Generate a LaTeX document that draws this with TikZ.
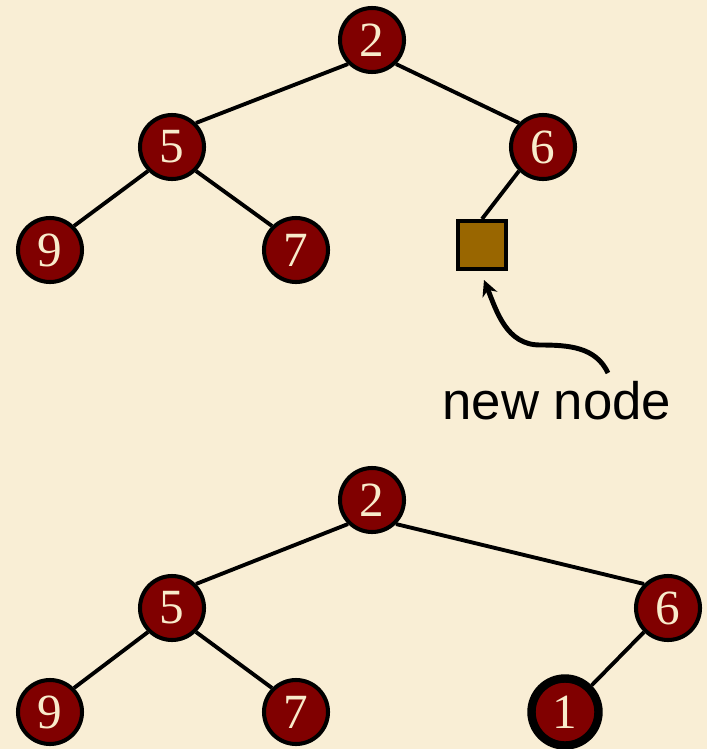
\documentclass[tikz,border=0pt]{standalone}
\usepackage{fontspec}
\setmainfont{Liberation Serif}
\newfontfamily\labelfont{Liberation Sans}
\usetikzlibrary{arrows.meta, backgrounds}
\definecolor{paper}{HTML}{F9EED5}
\definecolor{maroon}{HTML}{800000}
\definecolor{digit}{HTML}{F8EBCB}
\definecolor{umber}{HTML}{996600}

\begin{document}
\begin{tikzpicture}
\tikzstyle{heapnode} = [circle, draw=black, fill=maroon, line width=2.3pt, minimum size=1.28cm, inner sep=0pt, text=digit, font=\fontsize{28}{28}\selectfont]
\tikzstyle{hotnode} = [heapnode, line width=4.8pt, minimum size=1.34cm]
\tikzstyle{newleaf} = [rectangle, draw=black, fill=umber, line width=2.3pt, minimum size=0.96cm, inner sep=0pt]
\tikzstyle{link} = [line width=2.2pt]
\fill[paper] (0,0) rectangle (14.14,-14.98);
\useasboundingbox (0,0) rectangle (14.14,-14.98);
% before: a free slot under 6
\node[heapnode] (a2) at (7.44,-0.80) {2};
\node[heapnode] (a5) at (3.44,-2.94) {5};
\node[heapnode] (a6) at (10.86,-2.94) {6};
\node[heapnode] (a9) at (1.00,-5.00) {9};
\node[heapnode] (a7) at (5.92,-5.00) {7};
\node[newleaf] (slot) at (9.64,-4.90) {};
\draw[link] (a2.south west) -- (a5.north east);
\draw[link] (a2.south east) -- (a6.north west);
\draw[link] (a5.south west) -- (a9.north east);
\draw[link] (a5.south east) -- (a7.north west);
\draw[link] (a6.south west) -- (slot.north);
\node[font=\labelfont\fontsize{30}{30}\selectfont] (note) at (11.14,-8.02) {new node};
\coordinate (tail) at (12.16,-7.46);
\coordinate (bend) at (10.80,-6.90);
\coordinate (tip) at (9.68,-5.60);
\draw[line width=2.8pt, -{Stealth[length=9pt,width=9pt]}] (tail) to[out=115, in=0] (bend) to[out=180, in=-68] (tip);
% after: 1 inserted as right child of 6
\node[heapnode] (b2) at (7.44,-10.00) {2};
\node[heapnode] (b5) at (3.44,-12.16) {5};
\node[heapnode] (b6) at (13.36,-12.16) {6};
\node[heapnode] (b9) at (1.00,-14.24) {9};
\node[heapnode] (b7) at (5.92,-14.24) {7};
\node[hotnode] (b1) at (11.30,-14.24) {1};
\draw[link] (b2.south west) -- (b5.north east);
\draw[link] (b2.south east) -- (b6.north west);
\draw[link] (b5.south west) -- (b9.north east);
\draw[link] (b5.south east) -- (b7.north west);
\draw[link] (b6.south west) -- (b1.north east);
\end{tikzpicture}
\end{document}
